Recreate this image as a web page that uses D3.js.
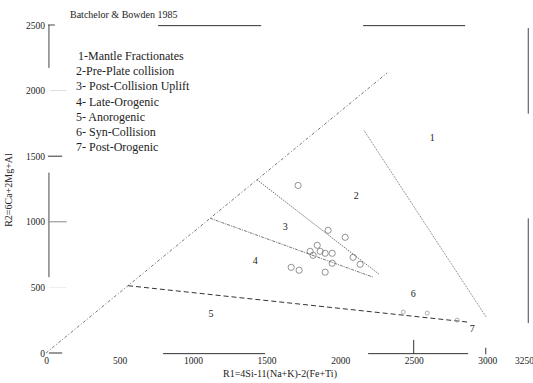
<!DOCTYPE html>
<html lang="en">
<head>
<meta charset="utf-8">
<title>R1-R2 Batchelor & Bowden</title>
<script src="https://d3js.org/d3.v7.min.js"></script>
<style>
  body { margin: 0; background: #fff; }
  svg text { font-family: "Liberation Serif", "DejaVu Serif", serif; fill: #222; }
</style>
</head>
<body>
<script>
// ---- data ----
var xTicks = [0, 500, 1000, 1500, 2000, 2500, 3000, 3250];
var yTicks = [0, 500, 1000, 1500, 2000, 2500];

var legendItems = ["1-Mantle Fractionates", "2-Pre-Plate collision", "3- Post-Collision Uplift",
                   "4- Late-Orogenic", "5- Anorogenic", "6- Syn-Collision", "7- Post-Orogenic"];

// field boundaries (R1, R2)
var diagLine   = [[0, 0], [2320, 2135]];
var line12     = [[2163, 1695], [2993, 274]];
var line23     = [[1435, 1320], [2265, 600]];
var line34     = [[1116, 1027], [2224, 578]];
var line5      = [[558, 513], [2864, 236]];

// zone numbers
var zoneNames = ["1", "2", "3", "4", "5", "6", "7"];
var zoneR1    = [2626, 2109, 1626, 1422, 1122, 2497, 2898];
var zoneR2    = [1641, 1201, 965, 707, 304, 456, 190];

// samples
var sampleR1 = [1714, 1918, 2034, 1844, 1796, 1864, 1898, 1946, 1816, 1946, 2088, 2136, 1667, 1721, 1898];
var sampleR2 = [1277, 935, 882, 821, 775, 775, 760, 760, 745, 684, 729, 676, 653, 631, 616];
// small squashed marks on the dashed line
var smallR1 = [2429, 2592, 2796];
var smallR2 = [312, 304, 251];

var w = 533, h = 383;
var svg = d3.select("body").append("svg").attr("width", w).attr("height", h);

var xScale = d3.scaleLinear().domain([0, 3250]).range([46, 524]);
var yScale = d3.scaleLinear().domain([0, 2500]).range([353, 25]);

// ---- broken frame pieces ----
function seg(x1, y1, x2, y2, col, sw) {
  svg.append("line")
    .attr("x1", x1).attr("y1", y1).attr("x2", x2).attr("y2", y2)
    .attr("stroke", col).attr("stroke-width", sw || 1);
}
var x0 = xScale(20), xr = xScale(3279);
seg(x0, yScale(2500), x0, yScale(2173), "#444");
seg(x0, yScale(1375), x0, yScale(578), "#444");
seg(xScale(762), yScale(2495), xScale(1463), yScale(2495), "#333");
seg(xScale(2156), yScale(2495), xScale(2850), yScale(2495), "#333");
seg(xScale(796), yScale(-5), xScale(1490), yScale(-5), "#333");
seg(xScale(2190), yScale(-5), xScale(2870), yScale(-5), "#333");
seg(xr, yScale(2477), xr, yScale(1824), "#444");
seg(xr, yScale(1026), xr, yScale(228), "#444");

// y tick marks
seg(x0 - 1, yScale(2500), xScale(60), yScale(2500), "#444");
seg(xScale(30), yScale(2000), xScale(140), yScale(2000), "#ddd");
seg(x0 - 1, yScale(1500), xScale(110), yScale(1500), "#333");
seg(x0, yScale(1000), xScale(140), yScale(1000), "#888");
seg(x0, yScale(500), xScale(140), yScale(500), "#eee");
seg(x0, yScale(0), xScale(110), yScale(0), "#333");
// x tick marks
seg(xScale(2500), yScale(100), xScale(2500), yScale(-5), "#333");
seg(xScale(2990), yScale(40), xScale(2990), yScale(-10), "#333");

// ---- axis labels via d3 axes ----
var yAxis = d3.axisLeft(yScale).tickValues(yTicks).tickSize(0).tickPadding(0).tickFormat(d3.format("d"));
var gy = svg.append("g").attr("transform", "translate(45,0)").call(yAxis);
gy.select(".domain").remove();
gy.selectAll("text").style("font-family", "Liberation Serif, serif").style("font-size", "9.5px").attr("fill", "#333");

var xAxis = d3.axisBottom(xScale).tickValues(xTicks).tickSize(0).tickPadding(0).tickFormat(d3.format("d"));
var gx = svg.append("g").attr("transform", "translate(0,357)").call(xAxis);
gx.select(".domain").remove();
gx.selectAll("text").style("font-family", "Liberation Serif, serif").style("font-size", "9.5px").attr("fill", "#333");

svg.append("text").attr("x", 280).attr("y", 377).attr("text-anchor", "middle")
  .style("font-size", "10px").text("R1=4Si-11(Na+K)-2(Fe+Ti)");
svg.append("text").attr("transform", "translate(12,190) rotate(-90)").attr("text-anchor", "middle")
  .style("font-size", "10px").text("R2=6Ca+2Mg+Al");

svg.append("text").attr("x", 70).attr("y", 18).style("font-size", "10px").text("Batchelor & Bowden 1985");

// legend
svg.selectAll("text.leg").data(legendItems).enter().append("text")
  .attr("class", "leg")
  .attr("x", function(d, i) { return i == 0 ? 78 : 76; })
  .attr("y", function(d, i) { return 60 + i * 15.2; })
  .style("font-size", "12px")
  .text(function(d) { return d; });

// ---- field boundaries ----
var line = d3.line().x(function(d) { return xScale(d[0]); }).y(function(d) { return yScale(d[1]); });
svg.append("path").attr("d", line(diagLine)).attr("fill", "none")
  .attr("stroke", "#666").attr("stroke-width", 0.9).attr("stroke-dasharray", "3,2,1,2");
svg.append("path").attr("d", line(line12)).attr("fill", "none")
  .attr("stroke", "#666").attr("stroke-width", 0.9).attr("stroke-dasharray", "1,1");
svg.append("path").attr("d", line(line23)).attr("fill", "none")
  .attr("stroke", "#666").attr("stroke-width", 0.9).attr("stroke-dasharray", "1.5,1");
svg.append("path").attr("d", line(line34)).attr("fill", "none")
  .attr("stroke", "#666").attr("stroke-width", 0.9).attr("stroke-dasharray", "3,1,1,1");
svg.append("path").attr("d", line(line5)).attr("fill", "none")
  .attr("stroke", "#333").attr("stroke-width", 1).attr("stroke-dasharray", "5,3");

// zone numbers
svg.selectAll("text.zone").data(zoneNames).enter().append("text")
  .attr("class", "zone")
  .attr("x", function(d, i) { return xScale(zoneR1[i]); })
  .attr("y", function(d, i) { return yScale(zoneR2[i]) + 3.5; })
  .attr("text-anchor", "middle")
  .style("font-size", "10px")
  .text(function(d) { return d; });

// samples
svg.selectAll("circle.s").data(sampleR1).enter().append("circle")
  .attr("class", "s")
  .attr("cx", function(d) { return xScale(d); })
  .attr("cy", function(d, i) { return yScale(sampleR2[i]); })
  .attr("r", 3.1)
  .attr("fill", "none").attr("stroke", "#777").attr("stroke-width", 0.8);

svg.selectAll("circle.m").data(smallR1).enter().append("circle")
  .attr("class", "m")
  .attr("cx", function(d) { return xScale(d); })
  .attr("cy", function(d, i) { return yScale(smallR2[i]); })
  .attr("r", 2)
  .attr("fill", "none").attr("stroke", "#999").attr("stroke-width", 0.8);
</script>
</body>
</html>
